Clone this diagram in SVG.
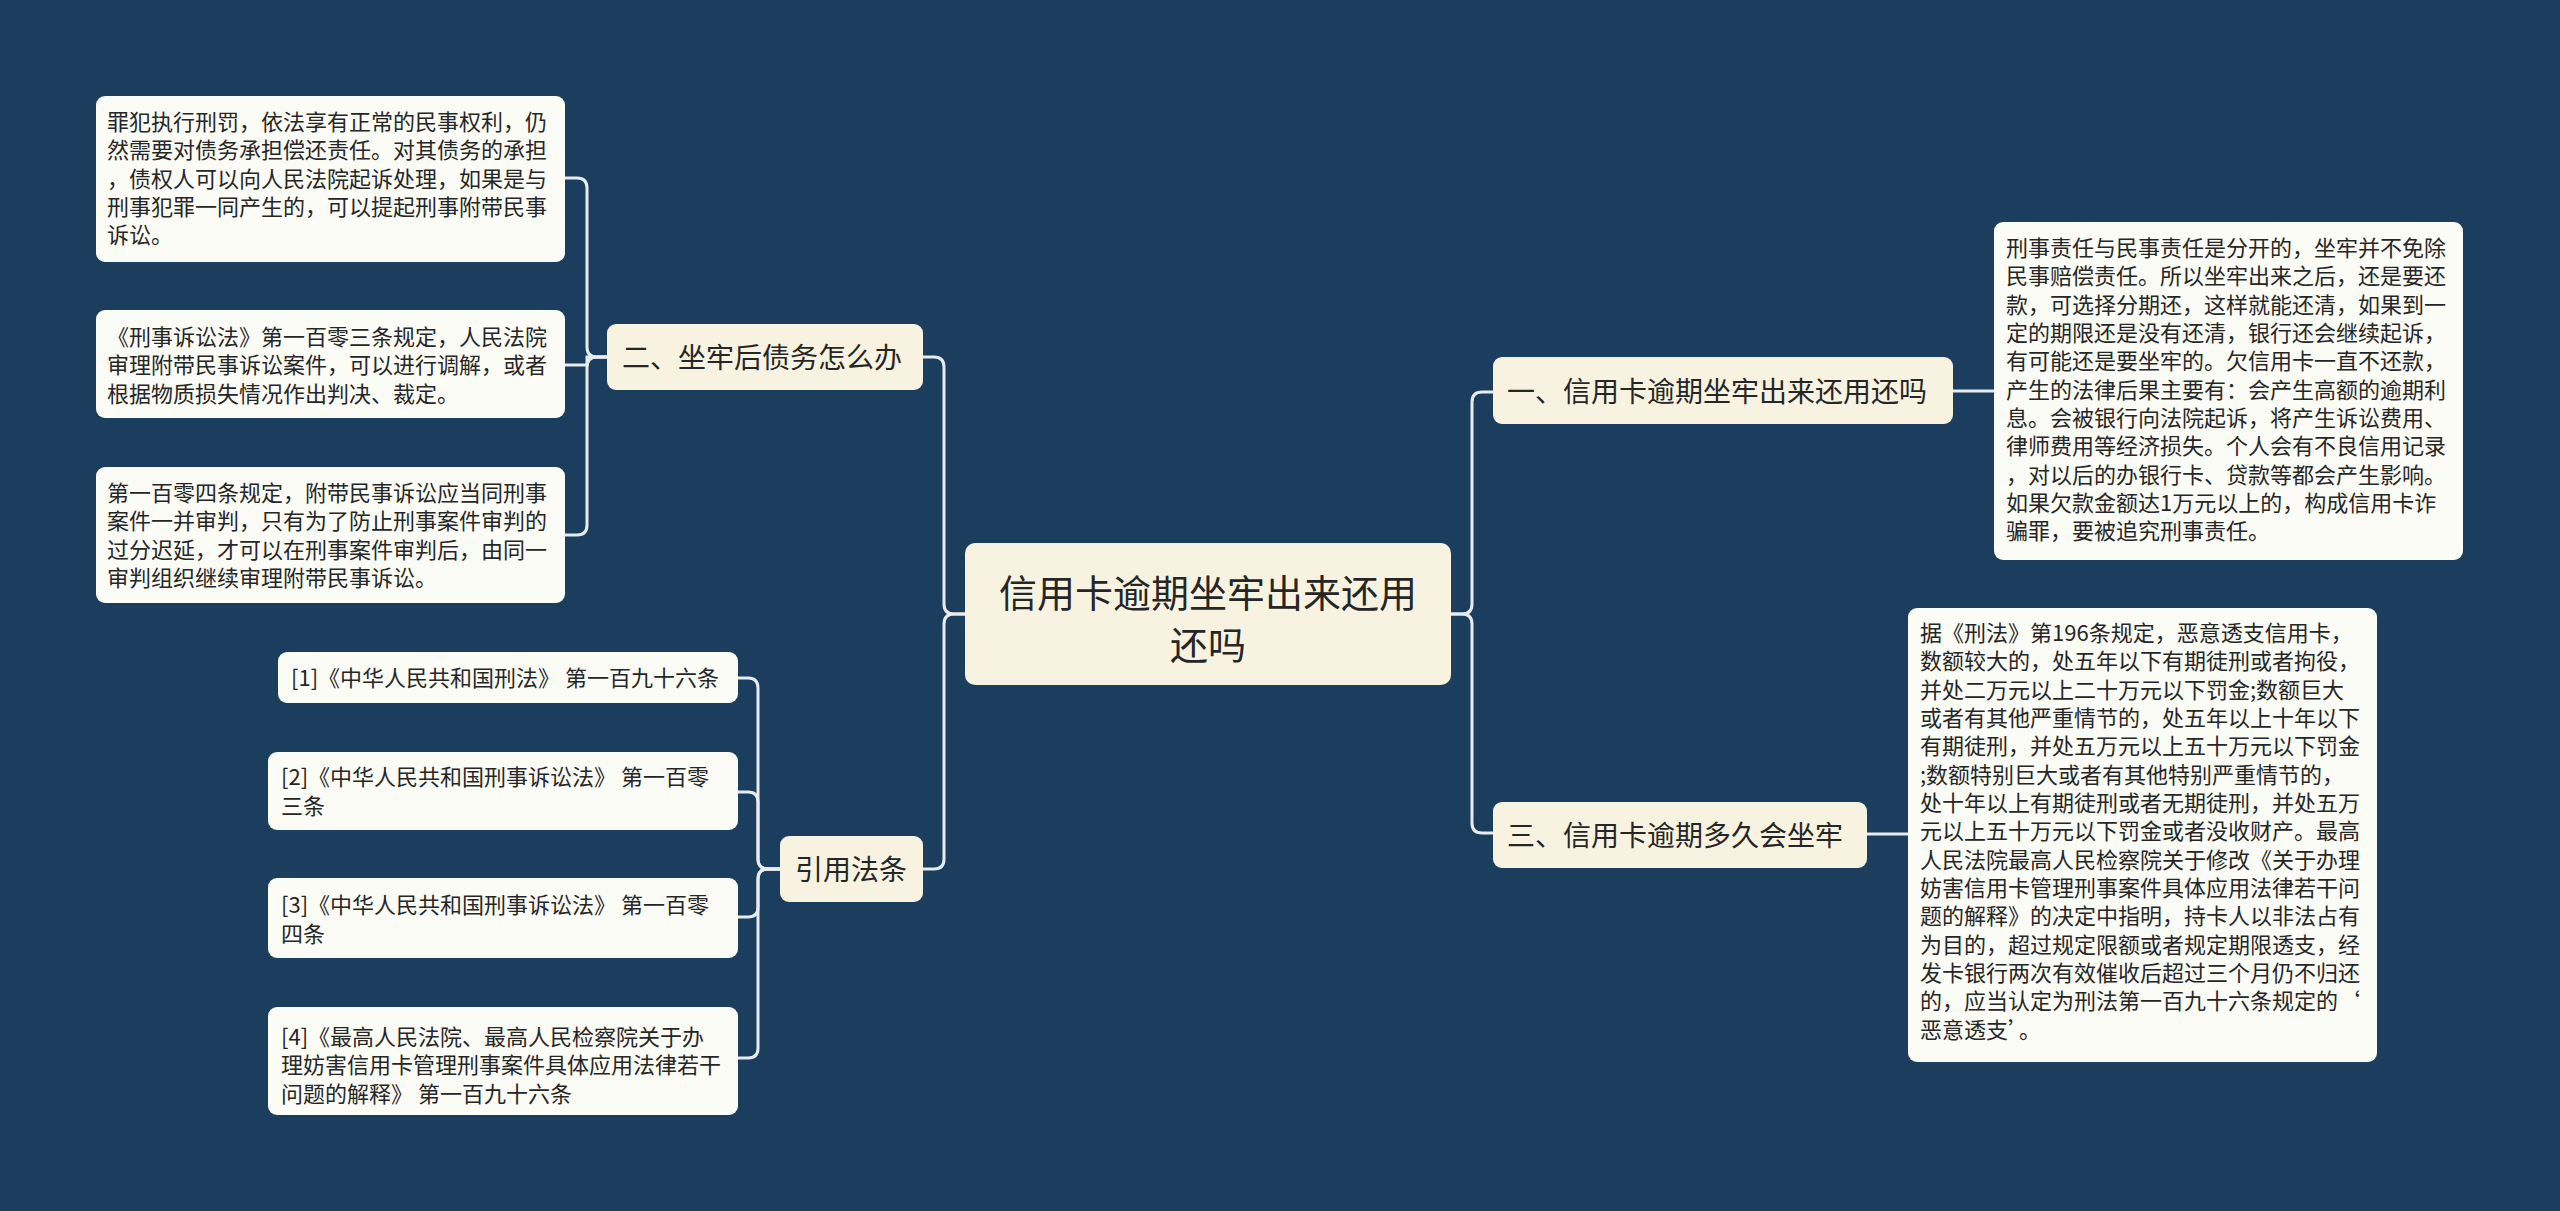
<svg xmlns="http://www.w3.org/2000/svg" width="2560" height="1211" viewBox="0 0 2560 1211">
<style>
.bg{fill:#1b3e5e}
.main{fill:#f8f3e1}
.leaf{fill:#fcfcf6}
.t{font-family:"Noto Sans CJK SC","Noto Sans",sans-serif;fill:#262626}
.tc{font-size:38px}
.tb{font-size:28px}
.tl{font-size:22px}
.conn path{fill:none;stroke:#e9ecef;stroke-width:3}
</style>
<rect class="bg" x="0" y="0" width="2560" height="1211"/>
<g class="conn">
<path d="M1451 614 H1462 Q1472 614 1472 604 V402 Q1472 392 1482 392 H1493"/>
<path d="M1451 614 H1462 Q1472 614 1472 624 V823 Q1472 833 1482 833 H1493"/>
<path d="M1953 391 H1994"/>
<path d="M1867 834 H1908"/>
<path d="M965 614 H954 Q944 614 944 604 V367 Q944 357 934 357 H923"/>
<path d="M965 614 H954 Q944 614 944 624 V859 Q944 869 934 869 H923"/>
<path d="M607 357 H597 Q587 357 587 347 V188 Q587 178 577 178 H565"/>
<path d="M607 357 H587 V365 H565"/>
<path d="M607 357 H597 Q587 357 587 367 V525 Q587 535 577 535 H565"/>
<path d="M780 869 H768 Q758 869 758 859 V688 Q758 678 748 678 H738"/>
<path d="M780 869 H768 Q758 869 758 859 V802 Q758 792 748 792 H738"/>
<path d="M780 869 H768 Q758 869 758 879 V907 Q758 917 748 917 H738"/>
<path d="M780 869 H768 Q758 869 758 879 V1048 Q758 1058 748 1058 H738"/>
</g>
<g id="root">
<rect class="main" x="965" y="543" width="486" height="142" rx="10"/>
<text class="t tc" text-anchor="middle"><tspan x="1208" y="607">信用卡逾期坐牢出来还用</tspan><tspan x="1208" y="659">还吗</tspan></text>
</g>
<g id="b1">
<rect class="main" x="1493" y="357" width="460" height="67" rx="9"/>
<text class="t tb" x="1507" y="402">一、信用卡逾期坐牢出来还用还吗</text>
</g>
<g id="b1-leaf">
<rect class="leaf" x="1994" y="222" width="469" height="338" rx="9"/>
<text class="t tl">
<tspan x="2006" y="256">刑事责任与民事责任是分开的，坐牢并不免除</tspan>
<tspan x="2006" y="284.3">民事赔偿责任。所以坐牢出来之后，还是要还</tspan>
<tspan x="2006" y="312.7">款，可选择分期还，这样就能还清，如果到一</tspan>
<tspan x="2006" y="341">定的期限还是没有还清，银行还会继续起诉，</tspan>
<tspan x="2006" y="369.3">有可能还是要坐牢的。欠信用卡一直不还款，</tspan>
<tspan x="2006" y="397.7">产生的法律后果主要有：会产生高额的逾期利</tspan>
<tspan x="2006" y="426">息。会被银行向法院起诉，将产生诉讼费用、</tspan>
<tspan x="2006" y="454.3">律师费用等经济损失。个人会有不良信用记录</tspan>
<tspan x="2006" y="482.7">，对以后的办银行卡、贷款等都会产生影响。</tspan>
<tspan x="2006" y="511">如果欠款金额达1万元以上的，构成信用卡诈</tspan>
<tspan x="2006" y="539.3">骗罪，要被追究刑事责任。</tspan>
</text>
</g>
<g id="b3">
<rect class="main" x="1493" y="802" width="374" height="66" rx="9"/>
<text class="t tb" x="1507" y="846">三、信用卡逾期多久会坐牢</text>
</g>
<g id="b3-leaf">
<rect class="leaf" x="1908" y="608" width="469" height="454" rx="9"/>
<text class="t tl">
<tspan x="1920" y="641">据《刑法》第196条规定，恶意透支信用卡，</tspan>
<tspan x="1920" y="669.3">数额较大的，处五年以下有期徒刑或者拘役，</tspan>
<tspan x="1920" y="697.7">并处二万元以上二十万元以下罚金;数额巨大</tspan>
<tspan x="1920" y="726">或者有其他严重情节的，处五年以上十年以下</tspan>
<tspan x="1920" y="754.3">有期徒刑，并处五万元以上五十万元以下罚金</tspan>
<tspan x="1920" y="782.7">;数额特别巨大或者有其他特别严重情节的，</tspan>
<tspan x="1920" y="811">处十年以上有期徒刑或者无期徒刑，并处五万</tspan>
<tspan x="1920" y="839.3">元以上五十万元以下罚金或者没收财产。最高</tspan>
<tspan x="1920" y="867.7">人民法院最高人民检察院关于修改《关于办理</tspan>
<tspan x="1920" y="896">妨害信用卡管理刑事案件具体应用法律若干问</tspan>
<tspan x="1920" y="924.3">题的解释》的决定中指明，持卡人以非法占有</tspan>
<tspan x="1920" y="952.7">为目的，超过规定限额或者规定期限透支，经</tspan>
<tspan x="1920" y="981">发卡银行两次有效催收后超过三个月仍不归还</tspan>
<tspan x="1920" y="1009.3">的，应当认定为刑法第一百九十六条规定的‘</tspan>
<tspan x="1920" y="1037.7">恶意透支’。</tspan>
</text>
</g>
<g id="b2">
<rect class="main" x="607" y="324" width="316" height="66" rx="9"/>
<text class="t tb" x="622" y="368">二、坐牢后债务怎么办</text>
</g>
<g id="b2-leaf1">
<rect class="leaf" x="96" y="96" width="469" height="166" rx="9"/>
<text class="t tl">
<tspan x="107" y="130">罪犯执行刑罚，依法享有正常的民事权利，仍</tspan>
<tspan x="107" y="158.3">然需要对债务承担偿还责任。对其债务的承担</tspan>
<tspan x="107" y="186.7">，债权人可以向人民法院起诉处理，如果是与</tspan>
<tspan x="107" y="215">刑事犯罪一同产生的，可以提起刑事附带民事</tspan>
<tspan x="107" y="243.3">诉讼。</tspan>
</text>
</g>
<g id="b2-leaf2">
<rect class="leaf" x="96" y="310" width="469" height="108" rx="9"/>
<text class="t tl">
<tspan x="107" y="345">《刑事诉讼法》第一百零三条规定，人民法院</tspan>
<tspan x="107" y="373.3">审理附带民事诉讼案件，可以进行调解，或者</tspan>
<tspan x="107" y="401.7">根据物质损失情况作出判决、裁定。</tspan>
</text>
</g>
<g id="b2-leaf3">
<rect class="leaf" x="96" y="467" width="469" height="136" rx="9"/>
<text class="t tl">
<tspan x="107" y="501">第一百零四条规定，附带民事诉讼应当同刑事</tspan>
<tspan x="107" y="529.3">案件一并审判，只有为了防止刑事案件审判的</tspan>
<tspan x="107" y="557.7">过分迟延，才可以在刑事案件审判后，由同一</tspan>
<tspan x="107" y="586">审判组织继续审理附带民事诉讼。</tspan>
</text>
</g>
<g id="b4">
<rect class="main" x="780" y="836" width="143" height="66" rx="9"/>
<text class="t tb" x="795" y="880">引用法条</text>
</g>
<g id="ref1">
<rect class="leaf" x="278" y="652" width="460" height="51" rx="9"/>
<text class="t tl" x="291" y="686">[1]《中华人民共和国刑法》 第一百九十六条</text>
</g>
<g id="ref2">
<rect class="leaf" x="268" y="752" width="470" height="78" rx="9"/>
<text class="t tl"><tspan x="281" y="785">[2]《中华人民共和国刑事诉讼法》 第一百零</tspan><tspan x="281" y="814">三条</tspan></text>
</g>
<g id="ref3">
<rect class="leaf" x="268" y="878" width="470" height="80" rx="9"/>
<text class="t tl"><tspan x="281" y="913">[3]《中华人民共和国刑事诉讼法》 第一百零</tspan><tspan x="281" y="942">四条</tspan></text>
</g>
<g id="ref4">
<rect class="leaf" x="268" y="1007" width="470" height="108" rx="9"/>
<text class="t tl"><tspan x="281" y="1045">[4]《最高人民法院、最高人民检察院关于办</tspan><tspan x="281" y="1073.3">理妨害信用卡管理刑事案件具体应用法律若干</tspan><tspan x="281" y="1101.7">问题的解释》 第一百九十六条</tspan></text>
</g>
</svg>
